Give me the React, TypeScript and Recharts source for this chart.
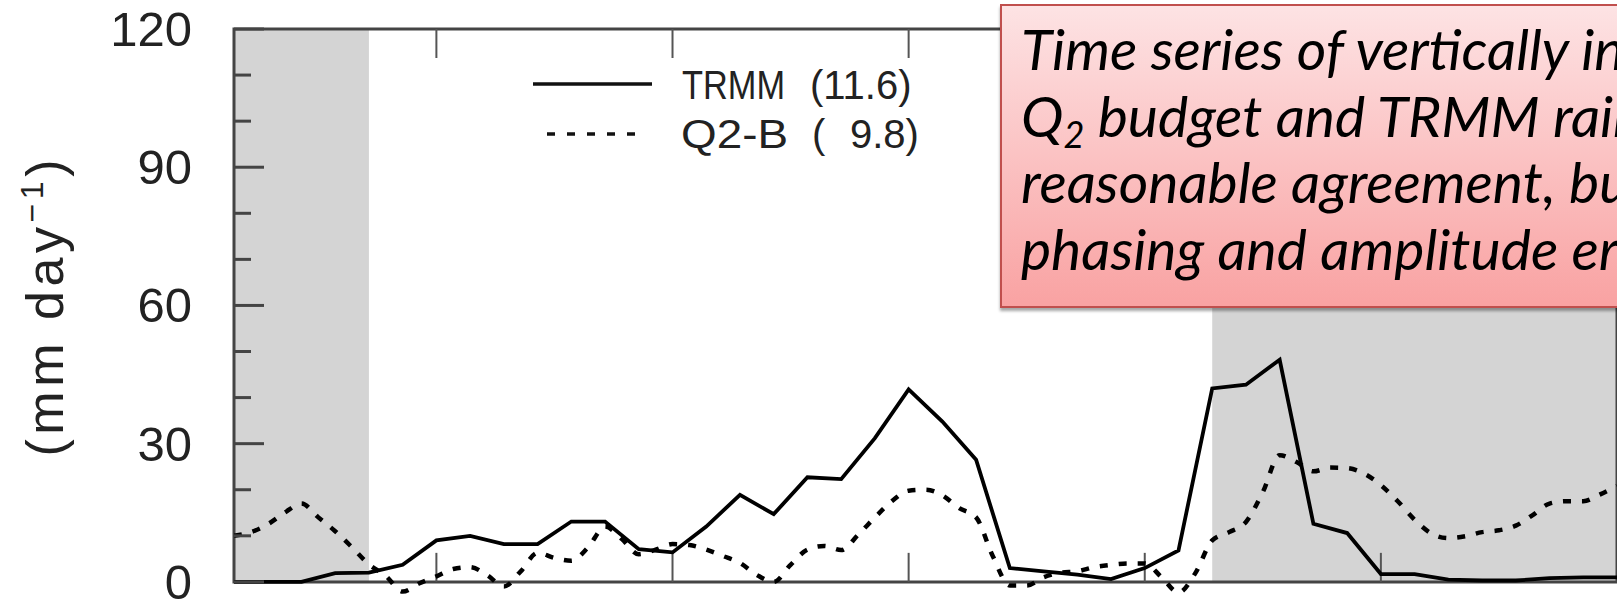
import React from 'react';
import { LineChart, Line, XAxis, YAxis, ReferenceArea, ReferenceLine, Legend } from 'recharts';

// daily TRMM rain rate (mm/day), day 0..41
const DAYS = [0, 1, 2, 3, 4, 5, 6, 7, 8, 9, 10, 11, 12, 13, 14, 15, 16, 17, 18, 19, 20,
  21, 22, 23, 24, 25, 26, 27, 28, 29, 30, 31, 32, 33, 34, 35, 36, 37, 38, 39, 40, 41];
const TRMM = [0, 0, 0, 1.9, 2, 3.7, 9, 10, 8.2, 8.2, 13.1, 13.1, 7.1, 6.4, 12, 18.9, 14.7,
  22.7, 22.3, 31.2, 41.8, 34.8, 26.5, 3, 2.3, 1.6, 0.6, 3, 6.8, 42, 42.8, 48.2, 12.6, 10.6,
  1.7, 1.7, 0.5, 0.3, 0.3, 0.8, 1, 1];

// Q2 budget estimate, read twice a day (day 0, 0.5, 1, ... 41)
const Q2B = [10, 10.8, 12.5, 15, 17, 14, 11, 7.5, 3.8, 1.3, -2.1, -0.3, 1.2, 2.8, 3.2, 1.5,
  -1, 2.3, 6.3, 5.2, 4.6, 7.5, 12, 9.3, 6, 7, 8.2, 8, 7, 5.6, 4.1, 1.5, 0, 3.7, 7, 7.8, 6.9,
  10.2, 14, 17.5, 19.8, 20, 18.8, 16, 14, 5.5, -0.8, -0.8, 1, 2, 2.3, 3.2, 3.7, 4, 4, 1,
  -2.3, 1.9, 9, 10.8, 13, 19.5, 27.5, 26, 24, 24.8, 24.7, 23.5, 21, 17.5, 13.5, 10.5, 9.5,
  9.9, 10.8, 11.2, 12.2, 14.5, 17, 17.5, 17.5, 19, 20.8];

const Y_TICKS = [0, 10, 20, 30, 40, 50, 60, 70, 80, 90, 100, 110, 120];
const X_TICKS = [6, 13, 20, 27, 34];
const SHADED = [[0, 4], [29, 41]];
const LEGEND_NAMES = ['TRMM', 'Q2-B'];
const LEGEND_MEANS = ['11.6', '9.8'];

const trmmData = DAYS.map((d, i) => ({ day: d, v: TRMM[i] }));
const q2bData = Q2B.map((v, i) => ({ day: i / 2, v }));

const AXIS = '#444';
const FONT = '"Liberation Sans", Arial, sans-serif';

const LeftTick = (props: any) => {
  const { x, y, payload } = props;
  const major = payload.value % 30 === 0;
  return (
    <g>
      <line x1={x} y1={y} x2={x + (major ? 30 : 17)} y2={y} stroke={AXIS} strokeWidth={3} />
      {major && (
        <text x={x - 42} y={y + 17} textAnchor="end" fontSize={49} fontFamily={FONT} fill="#222">
          {payload.value}
        </text>
      )}
    </g>
  );
};

const RightTick = (props: any) => {
  const { x, y, payload } = props;
  const major = payload.value % 30 === 0;
  return <line x1={x} y1={y} x2={x - (major ? 30 : 17)} y2={y} stroke={AXIS} strokeWidth={3} />;
};

const LegendBox = () => (
  <svg width={420} height={110} style={{ display: 'block' }}>
    <line x1={13} y1={24} x2={132} y2={24} stroke="#111" strokeWidth={3.5} />
    <line x1={27} y1={74} x2={125} y2={74} stroke="#111" strokeWidth={3.5} strokeDasharray="8 12" />
    <g fontFamily={FONT} fontSize={40} fill="#222">
      <text x={162} y={39} textLength={103} lengthAdjust="spacingAndGlyphs">{LEGEND_NAMES[0]}</text>
      <text x={290} y={39}>({LEGEND_MEANS[0]})</text>
      <text x={161} y={88} textLength={107} lengthAdjust="spacingAndGlyphs">{LEGEND_NAMES[1]}</text>
      <text x={292} y={88}>(</text>
      <text x={330} y={88}>{LEGEND_MEANS[1]})</text>
    </g>
  </svg>
);

const NoteBox = () => (
  <svg width={1617} height={604} style={{ position: 'absolute', left: 0, top: 0, pointerEvents: 'none' }}>
    <defs>
      <linearGradient id="noteFill" x1="0" y1="0" x2="0" y2="1">
        <stop offset="0%" stopColor="#fde3e4" />
        <stop offset="100%" stopColor="#f9a2a2" />
      </linearGradient>
      <filter id="noteShadow" x="-5%" y="-5%" width="110%" height="115%">
        <feDropShadow dx="0" dy="3" stdDeviation="1.5" floodColor="#000" floodOpacity="0.35" />
      </filter>
    </defs>
    <rect x={1001} y={5} width={700} height={302} fill="url(#noteFill)" stroke="#c0504d"
      strokeWidth={2} filter="url(#noteShadow)" />
    <g fontFamily="Lato, 'Open Sans', sans-serif" fontStyle="italic" fontSize={57} fill="#000"
      style={{ whiteSpace: 'pre' }}>
      <text x={1021} y={70}>Time series of vertically integrated</text>
      <text x={1021} y={137}>Q<tspan fontSize={36} dy={11}>2</tspan><tspan dy={-11}> budget and TRMM rainfall show</tspan></text>
      <text x={1021} y={203}>reasonable agreement, but with</text>
      <text x={1021} y={270}>phasing and amplitude errors.</text>
    </g>
  </svg>
);

export default function App() {
  return (
    <div style={{ position: 'absolute', left: 0, top: 0, width: 1617, height: 604, overflow: 'hidden', background: '#fff' }}>
      <LineChart width={1617} height={604} margin={{ top: 29, right: 0, bottom: 0, left: 0 }}>
        <XAxis dataKey="day" type="number" domain={[0, 41]} allowDataOverflow hide />
        <YAxis type="number" domain={[-4.8, 120]} allowDataOverflow ticks={Y_TICKS} interval={0}
          width={234} tickSize={0} tickMargin={0} axisLine={false} tickLine={false} tick={<LeftTick />} />
        <YAxis yAxisId="r" orientation="right" type="number" domain={[-4.8, 120]} allowDataOverflow
          ticks={Y_TICKS} interval={0} width={0} tickSize={0} tickMargin={0} axisLine={false}
          tickLine={false} tick={<RightTick />} />
        {SHADED.map(([a, b]) => (
          <ReferenceArea key={a} x1={a} x2={b} y1={0} y2={120} fill="#d4d4d4" fillOpacity={1} stroke="none" />
        ))}
        {X_TICKS.map((t) => (
          <ReferenceLine key={'b' + t} segment={[{ x: t, y: 0 }, { x: t, y: 6.3 }]} stroke="#555" strokeWidth={2} />
        ))}
        {X_TICKS.map((t) => (
          <ReferenceLine key={'t' + t} segment={[{ x: t, y: 120 }, { x: t, y: 113.7 }]} stroke="#555" strokeWidth={2} />
        ))}
        <ReferenceArea x1={0} x2={41} y1={0} y2={120} fill="none" stroke={AXIS} strokeWidth={3} />
        <Line data={trmmData} dataKey="v" type="linear" stroke="#000" strokeWidth={3.8} dot={false}
          isAnimationActive={false} />
        <Line data={q2bData} dataKey="v" type="monotone" stroke="#000" strokeWidth={4.5}
          strokeDasharray="8 11" dot={false} isAnimationActive={false} />
        <Legend layout="vertical" align="center" verticalAlign="middle" content={<LegendBox />}
          wrapperStyle={{ left: 520, top: 60, width: 420, height: 110 }} />
      </LineChart>
      <svg width={120} height={604} style={{ position: 'absolute', left: 0, top: 0 }}>
        <text x={63} y={308} transform="rotate(-90 63 308)" textAnchor="middle" fontFamily={FONT}
          fontSize={52} fill="#222" textLength={297} lengthAdjust="spacing">
          (mm day<tspan dy={-20} fontSize={32}>−1</tspan><tspan dy={20}>)</tspan>
        </text>
      </svg>
      <NoteBox />
    </div>
  );
}
